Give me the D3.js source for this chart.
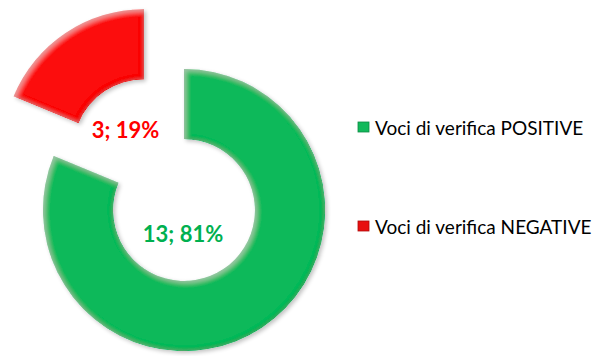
<!DOCTYPE html>
<html>
<head>
<meta charset="utf-8">
<script src="https://cdn.jsdelivr.net/npm/d3@7"></script>
<style>
  html, body { margin: 0; padding: 0; background: #ffffff; }
  svg { display: block; }
</style>
</head>
<body>
<svg id="chart" width="608" height="356"></svg>
<script>
// Esito delle voci di verifica
const categories = ["Voci di verifica POSITIVE", "Voci di verifica NEGATIVE"];
const values = [13, 3];
const percentLabels = ["81%", "19%"];
const sliceColors = ["#0eb95a", "#fc0808"];
const labelColors = ["#00b050", "#ff0000"];
const legendColors = ["#12b95b", "#e81010"];

const svg = d3.select("#chart");
const cx = 184, cy = 210;
const outerR = 141, innerR = 71;
const explode = [0, 72];

const defs = svg.append("defs");

// bevel rim, top-left highlight and soft shadow for the ring segments
const f = defs.append("filter").attr("id", "bevel")
  .attr("x", "-10%").attr("y", "-10%").attr("width", "125%").attr("height", "125%");
f.append("feGaussianBlur").attr("in", "SourceAlpha").attr("stdDeviation", 2.6).attr("result", "blur");
f.append("feComposite").attr("in", "SourceAlpha").attr("in2", "blur")
  .attr("operator", "arithmetic").attr("k2", 1).attr("k3", -1).attr("result", "edge");
f.append("feFlood").attr("flood-color", "#000").attr("flood-opacity", 0.5).attr("result", "dark");
f.append("feComposite").attr("in", "dark").attr("in2", "edge").attr("operator", "in").attr("result", "rim");
// light on upper-left edges
f.append("feOffset").attr("in", "blur").attr("dx", 1.5).attr("dy", 1.5).attr("result", "bo");
f.append("feComposite").attr("in", "SourceAlpha").attr("in2", "bo")
  .attr("operator", "arithmetic").attr("k2", 1).attr("k3", -1).attr("result", "hiEdge");
f.append("feFlood").attr("flood-color", "#fff").attr("flood-opacity", 0.35).attr("result", "light");
f.append("feComposite").attr("in", "light").attr("in2", "hiEdge").attr("operator", "in").attr("result", "hi");
f.append("feGaussianBlur").attr("in", "SourceAlpha").attr("stdDeviation", 2).attr("result", "sb");
f.append("feOffset").attr("in", "sb").attr("dx", 2).attr("dy", 2).attr("result", "so");
f.append("feComponentTransfer").attr("in", "so").attr("result", "shadow")
  .append("feFuncA").attr("type", "linear").attr("slope", 0.25);
const m = f.append("feMerge");
m.append("feMergeNode").attr("in", "shadow");
m.append("feMergeNode").attr("in", "SourceGraphic");
m.append("feMergeNode").attr("in", "rim");
m.append("feMergeNode").attr("in", "hi");

const pie = d3.pie().sort(null).value(d => d)
  .startAngle(0).endAngle(2 * Math.PI);
const arcs = pie(values);
const arc = d3.arc().innerRadius(innerR).outerRadius(outerR);

const g = svg.append("g").attr("transform", `translate(${cx},${cy})`);

g.selectAll("path.slice")
  .data(arcs)
  .join("path")
  .attr("class", "slice")
  .attr("d", arc)
  .attr("fill", (d, i) => sliceColors[i])
  .attr("filter", "url(#bevel)")
  .attr("transform", (d, i) => {
    const a = (d.startAngle + d.endAngle) / 2;
    return `translate(${Math.sin(a) * explode[i]},${-Math.cos(a) * explode[i]})`;
  });

// data labels: "valore; percentuale"
const fontLab = "Lato, 'Open Sans', sans-serif";
g.selectAll("text.lab")
  .data(arcs)
  .join("text")
  .attr("class", "lab")
  .attr("x", (d, i) => {
    const a = (d.startAngle + d.endAngle) / 2;
    return i === 0 ? -1 : Math.sin(a) * 98 - 4;
  })
  .attr("y", (d, i) => {
    const a = (d.startAngle + d.endAngle) / 2;
    return i === 0 ? 23 : -Math.cos(a) * 98 + 1;
  })
  .attr("text-anchor", "middle")
  .attr("dominant-baseline", "central")
  .attr("font-family", fontLab)
  .attr("font-weight", "bold")
  .attr("font-size", 22)
  .attr("fill", (d, i) => labelColors[i])
  .text((d, i) => `${values[i]}; ${percentLabels[i]}`);

// legend
const legend = svg.append("g").attr("transform", "translate(358,0)");
const ly = d3.scalePoint().domain(categories).range([127, 226]);
const item = legend.selectAll("g.item")
  .data(categories)
  .join("g")
  .attr("class", "item")
  .attr("transform", d => `translate(0,${ly(d)})`);
item.append("rect")
  .attr("x", 0).attr("y", -5).attr("width", 11).attr("height", 10)
  .attr("fill", (d, i) => legendColors[i])
  .attr("stroke", (d, i) => d3.color(legendColors[i]).darker(0.8))
  .attr("stroke-width", 0.8);
item.append("text")
  .attr("x", 17).attr("y", 0)
  .attr("dominant-baseline", "central")
  .attr("font-family", fontLab)
  .attr("font-size", 19)
  .attr("fill", "#000")
  .text(d => d);
</script>
</body>
</html>
